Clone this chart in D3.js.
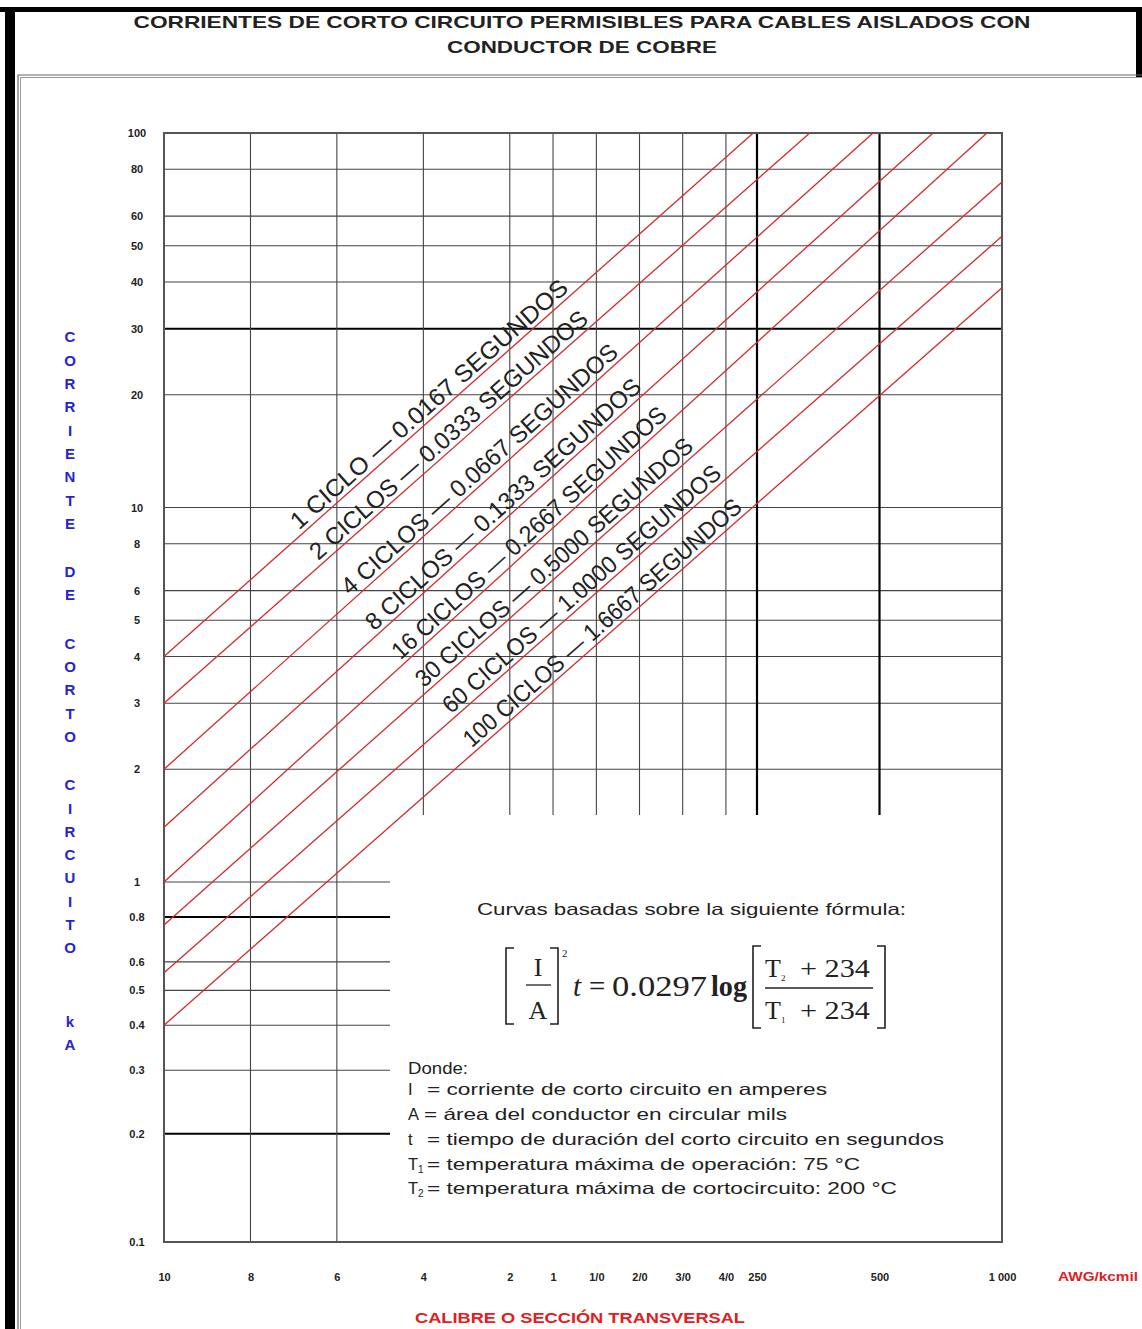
<!DOCTYPE html>
<html>
<head>
<meta charset="utf-8">
<script src="https://cdn.jsdelivr.net/npm/d3@7"></script>
<style>
  body { margin: 0; background: #fff; }
  svg { display: block; }
</style>
</head>
<body>
<svg id="chart" width="1142" height="1329"></svg>
<script>
// ---- Conductor sizes (AWG / kcmil) and their cross sections in kcmil ----
const sizeLabels = ["10", "8", "6", "4", "2", "1", "1/0", "2/0", "3/0", "4/0", "250", "500", "1 000"];
const sizeKcmil  = [10.38, 16.51, 26.24, 41.74, 66.36, 83.69, 105.6, 133.1, 167.8, 211.6, 250, 500, 1000];
const fullHeightSizes = [16.51, 26.24];   // gridlines that run down to 0.1 kA
const heavySizes = [250, 500];

// ---- Short-circuit current ticks (kA) ----
const currentTicks  = [100, 80, 60, 50, 40, 30, 20, 10, 8, 6, 5, 4, 3, 2, 1, 0.8, 0.6, 0.5, 0.4, 0.3, 0.2, 0.1];
const currentLabels = ["100", "80", "60", "50", "40", "30", "20", "10", "8", "6", "5", "4", "3", "2", "1", "0.8", "0.6", "0.5", "0.4", "0.3", "0.2", "0.1"];
const heavyCurrents = [30, 0.8, 0.2];
const shortCurrents = [1, 0.8, 0.6, 0.5, 0.4, 0.3, 0.2]; // gridlines only on the left part

// ---- Duration curves: one straight line per fault duration ----
const cycles    = [1, 2, 4, 8, 16, 30, 60, 100];
const seconds   = ["0.0167", "0.0333", "0.0667", "0.1333", "0.2667", "0.5000", "1.0000", "1.6667"];
const startKA   = [4, 3, 2, 1.4, 1, 0.76, 0.56, 0.4];           // current at 10 AWG
const endKcmil  = [245, 337, 482, 677, 918, 1000, 1000, 1000];  // where each line leaves the grid
const endKA     = [100, 100, 100, 100, 100, 74, 53, 38.6];
const labelKcmil = [45, 50, 59, 67, 77, 88, 102, 114];          // label centre along each line

const svg = d3.select("#chart");
const L = 164, R = 1002, T = 133, B = 1242;
const boxTop = 815, boxLeft = 390;   // blank area that holds the formula

const x = d3.scaleLog().domain([10.38, 250, 1000]).range([L, 757, R]);
const y = d3.scaleLog().domain([0.1, 1, 100]).range([B, 882, T]);

// ---- page frame ----
svg.append("rect").attr("x", 0).attr("y", 0).attr("width", 1142).attr("height", 1329).attr("fill", "#fff");
svg.append("rect").attr("x", 0).attr("y", 7).attr("width", 1142).attr("height", 5).attr("fill", "#000");
svg.append("rect").attr("x", 5).attr("y", 7).attr("width", 10).attr("height", 1322).attr("fill", "#000");
svg.append("rect").attr("x", 1136).attr("y", 7).attr("width", 6).attr("height", 70).attr("fill", "#000");
svg.append("path").attr("d", "M18,1329 V75 H1142").attr("fill", "none").attr("stroke", "#666").attr("stroke-width", 1.2);
svg.append("path").attr("d", "M20.5,1329 V77.5 H1142").attr("fill", "none").attr("stroke", "#999").attr("stroke-width", 1);

// ---- title ----
const title = svg.append("g").attr("font-family", "Liberation Sans, Arial, sans-serif")
  .attr("font-weight", "bold").attr("fill", "#222").attr("text-anchor", "middle");
title.append("text").attr("x", 582).attr("y", 28).attr("font-size", 17)
  .attr("textLength", 897).attr("lengthAdjust", "spacingAndGlyphs")
  .text("CORRIENTES DE CORTO CIRCUITO PERMISIBLES PARA CABLES AISLADOS CON");
title.append("text").attr("x", 582).attr("y", 53).attr("font-size", 17)
  .attr("textLength", 270).attr("lengthAdjust", "spacingAndGlyphs")
  .text("CONDUCTOR DE COBRE");

// ---- grid ----
const grid = svg.append("g");
grid.selectAll("line.h")
  .data(currentTicks.filter(v => v !== 100 && v !== 0.1))
  .join("line")
  .attr("x1", L)
  .attr("x2", d => shortCurrents.includes(d) ? boxLeft : R)
  .attr("y1", d => y(d)).attr("y2", d => y(d))
  .attr("stroke", d => heavyCurrents.includes(d) ? "#000" : "#444")
  .attr("stroke-width", d => heavyCurrents.includes(d) ? 2 : 1.1);

grid.selectAll("line.v")
  .data(sizeKcmil.slice(1, -1))
  .join("line")
  .attr("x1", d => x(d)).attr("x2", d => x(d))
  .attr("y1", T)
  .attr("y2", d => fullHeightSizes.includes(d) ? B : boxTop)
  .attr("stroke", d => heavySizes.includes(d) ? "#000" : "#444")
  .attr("stroke-width", d => heavySizes.includes(d) ? 2.2 : 1.1);

// plot frame
svg.append("rect").attr("x", L).attr("y", T).attr("width", R - L).attr("height", B - T)
  .attr("fill", "none").attr("stroke", "#555").attr("stroke-width", 2);

// ---- duration lines ----
const curves = cycles.map((c, i) => ({
  cycles: c, seconds: seconds[i],
  pts: [[sizeKcmil[0], startKA[i]], [endKcmil[i], endKA[i]]],
  labelAt: labelKcmil[i]
}));

const line = d3.line().x(d => x(d[0])).y(d => y(d[1]));
svg.append("g").selectAll("path")
  .data(curves)
  .join("path")
  .attr("d", d => line(d.pts))
  .attr("fill", "none")
  .attr("stroke", "#d32b2b")
  .attr("stroke-width", 1.3);

// labels along each line
const lab = svg.append("g").attr("font-family", "Liberation Sans, Arial, sans-serif")
  .attr("fill", "#222").attr("font-size", 24);
curves.forEach(d => {
  const x0 = x(d.pts[0][0]), y0 = y(d.pts[0][1]);
  const x1 = x(d.pts[1][0]), y1 = y(d.pts[1][1]);
  const a = x1 - x0, b = y1 - y0, len = Math.hypot(a, b);
  const px = x(d.labelAt);
  const py = y0 + (px - x0) / a * b;
  const off = 13;
  const cx = px + off * b / len, cy = py - off * a / len;
  const ang = Math.atan2(b, a) * 180 / Math.PI;
  const txt = d.cycles === 1
    ? `1 CICLO — ${d.seconds} SEGUNDOS`
    : `${d.cycles} CICLOS — ${d.seconds} SEGUNDOS`;
  lab.append("text")
    .attr("transform", `translate(${cx},${cy}) rotate(${ang})`)
    .attr("text-anchor", "middle")
    .attr("dy", "0.35em")
    .attr("textLength", 362).attr("lengthAdjust", "spacingAndGlyphs")
    .text(txt);
});

// ---- axes ----
const yAxis = svg.append("g").attr("transform", `translate(${L},0)`)
  .call(d3.axisLeft(y).tickValues(currentTicks).tickFormat((d, i) => currentLabels[i]).tickSize(0));
yAxis.select(".domain").remove();
yAxis.selectAll("text")
  .attr("x", -27).attr("text-anchor", "middle")
  .attr("font-family", "Liberation Sans Narrow, Liberation Sans, Arial, sans-serif")
  .attr("font-weight", "bold").attr("font-size", 11).attr("fill", "#222");

const xAxis = svg.append("g").attr("transform", `translate(0,${B})`)
  .call(d3.axisBottom(x).tickValues(sizeKcmil).tickFormat((d, i) => sizeLabels[i]).tickSize(0));
xAxis.select(".domain").remove();
xAxis.selectAll("text")
  .attr("y", 39).attr("dy", 0)
  .attr("font-family", "Liberation Sans Narrow, Liberation Sans, Arial, sans-serif")
  .attr("font-weight", "bold").attr("font-size", 11).attr("fill", "#222");

svg.append("text").attr("x", 1058).attr("y", 1281)
  .attr("font-family", "Liberation Sans, Arial, sans-serif").attr("font-weight", "bold")
  .attr("font-size", 12).attr("fill", "#e0201e")
  .attr("textLength", 80).attr("lengthAdjust", "spacingAndGlyphs")
  .text("AWG/kcmil");

svg.append("text").attr("x", 580).attr("y", 1323).attr("text-anchor", "middle")
  .attr("font-family", "Liberation Sans, Arial, sans-serif").attr("font-weight", "bold")
  .attr("font-size", 15).attr("fill", "#e0201e")
  .attr("textLength", 330).attr("lengthAdjust", "spacingAndGlyphs")
  .text("CALIBRE O SECCIÓN TRANSVERSAL");

// vertical axis title, one letter per row
const yTitle = "CORRIENTE DE CORTO CIRCUITO  kA";
const yt = svg.append("g").attr("font-family", "Liberation Sans, Arial, sans-serif")
  .attr("font-weight", "bold").attr("font-size", 15).attr("fill", "#2424d0")
  .attr("text-anchor", "middle");
let ty = 337;
for (const ch of yTitle) {
  if (ch === " ") { ty += 25; continue; }
  yt.append("text").attr("x", 70).attr("y", ty).attr("dy", "0.36em").text(ch);
  ty += 23.3;
}

// ---- formula block ----
const f = svg.append("g").attr("fill", "#222");
const sans = "Liberation Sans, Arial, sans-serif";
const serif = "Liberation Serif, Times New Roman, serif";

function txt(g, x0, y0, s, opts = {}) {
  const t = g.append("text").attr("x", x0).attr("y", y0)
    .attr("font-family", opts.family || sans)
    .attr("font-size", opts.size || 16.5)
    .text(s);
  if (opts.len) t.attr("textLength", opts.len).attr("lengthAdjust", "spacingAndGlyphs");
  if (opts.weight) t.attr("font-weight", opts.weight);
  if (opts.style) t.attr("font-style", opts.style);
  if (opts.anchor) t.attr("text-anchor", opts.anchor);
  return t;
}

txt(f, 477, 915, "Curvas basadas sobre la siguiente fórmula:", { len: 429 });

// [I/A]^2
txt(f, 538, 976, "I", { family: serif, size: 26, anchor: "middle" });
txt(f, 538, 1019, "A", { family: serif, size: 26, anchor: "middle" });
f.append("line").attr("x1", 526).attr("x2", 551).attr("y1", 985).attr("y2", 985).attr("stroke", "#222").attr("stroke-width", 1.3);
f.append("path").attr("d", "M514,948 H506 V1024 H514").attr("fill", "none").attr("stroke", "#222").attr("stroke-width", 1.6);
f.append("path").attr("d", "M550,948 H558 V1024 H550").attr("fill", "none").attr("stroke", "#222").attr("stroke-width", 1.6);
txt(f, 562, 957, "2", { family: serif, size: 11 });
// t = 0.0297 log
txt(f, 573, 996, "t", { family: serif, size: 29, style: "italic" });
txt(f, 589, 996, "=", { family: serif, size: 29 });
txt(f, 612, 996, "0.0297", { family: serif, size: 29, len: 95 });
txt(f, 711, 996, "log", { family: serif, size: 29, weight: "bold", len: 36 });
// [(T2 + 234)/(T1 + 234)]
f.append("path").attr("d", "M761,946 H753 V1028 H761").attr("fill", "none").attr("stroke", "#222").attr("stroke-width", 1.6);
f.append("path").attr("d", "M877,946 H885 V1028 H877").attr("fill", "none").attr("stroke", "#222").attr("stroke-width", 1.6);
txt(f, 765, 977, "T", { family: serif, size: 26 });
txt(f, 781, 981, "2", { family: serif, size: 9 });
txt(f, 800, 977, "+ 234", { family: serif, size: 26, len: 70 });
f.append("line").attr("x1", 765).attr("x2", 873).attr("y1", 988).attr("y2", 988).attr("stroke", "#222").attr("stroke-width", 1.3);
txt(f, 765, 1019, "T", { family: serif, size: 26 });
txt(f, 781, 1023, "1", { family: serif, size: 9 });
txt(f, 800, 1019, "+ 234", { family: serif, size: 26, len: 70 });

// legend of symbols
txt(f, 408, 1074, "Donde:", { len: 60 });
txt(f, 408, 1095, "I");
txt(f, 427, 1095, "= corriente de corto circuito en amperes", { len: 400 });
txt(f, 408, 1120, "A");
txt(f, 424, 1120, "= área del conductor en circular mils", { len: 363 });
txt(f, 408, 1145, "t");
txt(f, 427, 1145, "= tiempo de duración del corto circuito en segundos", { len: 517 });
txt(f, 408, 1170, "T");
txt(f, 418, 1173, "1", { size: 10 });
txt(f, 427, 1170, "= temperatura máxima de operación: 75 °C", { len: 433 });
txt(f, 408, 1194, "T");
txt(f, 418, 1197, "2", { size: 10 });
txt(f, 427, 1194, "= temperatura máxima de cortocircuito: 200 °C", { len: 470 });
</script>
</body>
</html>
